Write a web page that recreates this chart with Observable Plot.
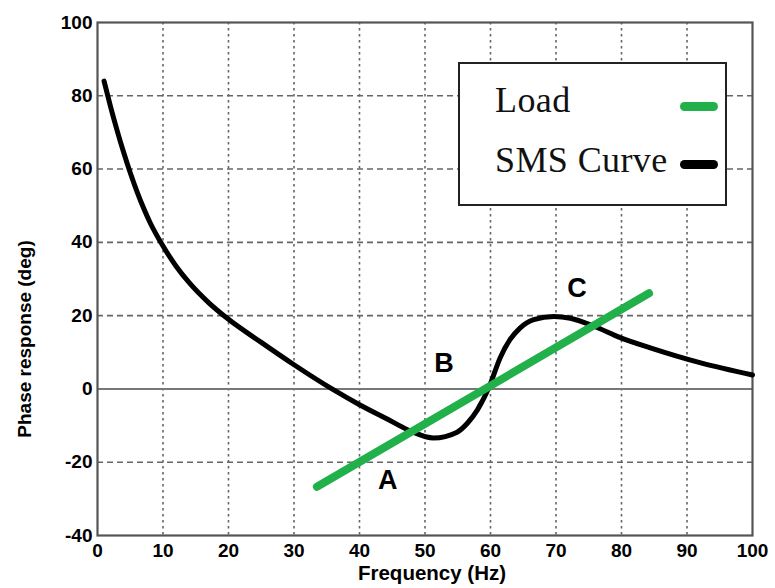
<!DOCTYPE html>
<html>
<head>
<meta charset="utf-8">
<script src="https://cdn.jsdelivr.net/npm/d3@7"></script>
<script src="https://cdn.jsdelivr.net/npm/@observablehq/plot@0.6"></script>
<style>
  body { margin: 0; background: #fff; }
  #wrap { position: relative; width: 775px; height: 588px; }
  #legend { position: absolute; left: 458px; top: 62px; width: 269px; height: 144px;
    border: 2px solid #222; background: #fff; box-sizing: border-box;
    font-family: "Liberation Serif", "Times New Roman", serif; font-size: 36px; letter-spacing: 0.4px; color: #111; }
  #legend .lab { position: absolute; left: 35px; line-height: 36px; white-space: nowrap; }
  #legend .sw { position: absolute; left: 220px; width: 38px; height: 9px; border-radius: 5px; }
</style>
</head>
<body>
<div id="wrap">
  <div id="chart"></div>
  <div id="legend"></div>
</div>
<script>
// SMS curve (phase response vs frequency)
const smsFreq  = [1, 2, 3, 4, 5, 6, 7, 8, 10, 12, 14, 17, 20, 25, 30, 35.8, 40, 44, 47.8, 51.3, 54.9, 56.5, 58, 59.8, 61.5, 63, 64.5, 66.6, 69.7, 72.2, 75.8, 79.8, 84.4, 92.1, 100];
const smsPhase = [84, 77, 70.5, 64.5, 59, 54, 49.5, 45.5, 39, 33.5, 29, 23.5, 19, 12.7, 6.6, 0, -4.3, -8, -11.5, -13.4, -11.8, -9.3, -5.7, 0.6, 8.6, 13.5, 16.6, 18.9, 19.8, 19.3, 17.1, 14, 11.2, 7.1, 3.8];
// Load line
const loadFreq  = [33.5, 84.2];
const loadPhase = [-26.7, 26.1];
// Point annotations
const annLabels = ["A", "B", "C"];
const annFreq   = [44.3, 52.9, 73.2];
const annPhase  = [-25, 7, 27.5];
// Ticks
const xTicks = [0, 10, 20, 30, 40, 50, 60, 70, 80, 90, 100];
const yTicks = [-40, -20, 0, 20, 40, 60, 80, 100];
// Legend entries
const legendNames  = ["Load", "SMS Curve"];
const legendColors = ["#22b04b", "#000000"];

const xLabel = "Frequency (Hz)";
const yLabel = "Phase response (deg)";

const sms  = smsFreq.map((f, i) => ({f, p: smsPhase[i]}));
const load = loadFreq.map((f, i) => ({f, p: loadPhase[i]}));
const ann  = annLabels.map((t, i) => ({t, f: annFreq[i], p: annPhase[i]}));

const font = "'Liberation Sans', Arial, sans-serif";

const chart = Plot.plot({
  width: 775,
  height: 588,
  marginLeft: 97,
  marginRight: 23,
  marginTop: 22,
  marginBottom: 53,
  style: { fontFamily: font, background: "#fff", color: "#000" },
  x: { domain: [0, 100] },
  y: { domain: [-40, 100] },
  marks: [
    Plot.ruleX(xTicks.filter(d => d > 0 && d < 100), { stroke: "#666", strokeWidth: 1.6, strokeDasharray: "2.5,3.5" }),
    Plot.ruleY(yTicks.filter(d => d !== 0 && d > -40 && d < 100), { stroke: "#666", strokeWidth: 1.6, strokeDasharray: "6,4" }),
    Plot.ruleY([0], { stroke: "#777", strokeWidth: 2 }),
    Plot.frame({ stroke: "#555", strokeWidth: 2.2 }),
    Plot.axisX({ ticks: xTicks, tickFormat: d => String(d), tickSize: 0, tickPadding: 8, fontSize: 19, fontWeight: "bold", label: null, fill: "#000" }),
    Plot.axisY({ ticks: yTicks, tickFormat: d => String(d), tickSize: 0, tickPadding: 5, fontSize: 19, fontWeight: "bold", label: null, fill: "#000" }),
    Plot.line(sms, { x: "f", y: "p", stroke: "#000", strokeWidth: 5, curve: "monotone-x" }),
    Plot.line(load, { x: "f", y: "p", stroke: legendColors[0], strokeWidth: 8, strokeLinecap: "round" }),
    Plot.text(ann, { x: "f", y: "p", text: "t", fontSize: 27, fontWeight: "bold", fill: "#000", textAnchor: "middle", lineAnchor: "middle" }),
    Plot.text([xLabel], { frameAnchor: "bottom", dx: 7, dy: 38, text: d => d, fontSize: 20.5, fontWeight: "bold", fill: "#000", textAnchor: "middle", lineAnchor: "middle" }),
    Plot.text([yLabel], { frameAnchor: "left", dx: -73, dy: 60, rotate: -90, text: d => d, fontSize: 19, fontWeight: "bold", fill: "#000", textAnchor: "middle", lineAnchor: "middle" })
  ]
});
document.getElementById("chart").appendChild(chart);

// legend
const lg = document.getElementById("legend");
const labTops = [18, 78];
const swTops = [37.5, 95.5];
legendNames.forEach((n, i) => {
  const l = document.createElement("div");
  l.className = "lab"; l.textContent = n; l.style.top = labTops[i] + "px";
  lg.appendChild(l);
  const s = document.createElement("div");
  s.className = "sw"; s.style.background = legendColors[i]; s.style.top = swTops[i] + "px";
  lg.appendChild(s);
});
</script>
</body>
</html>
